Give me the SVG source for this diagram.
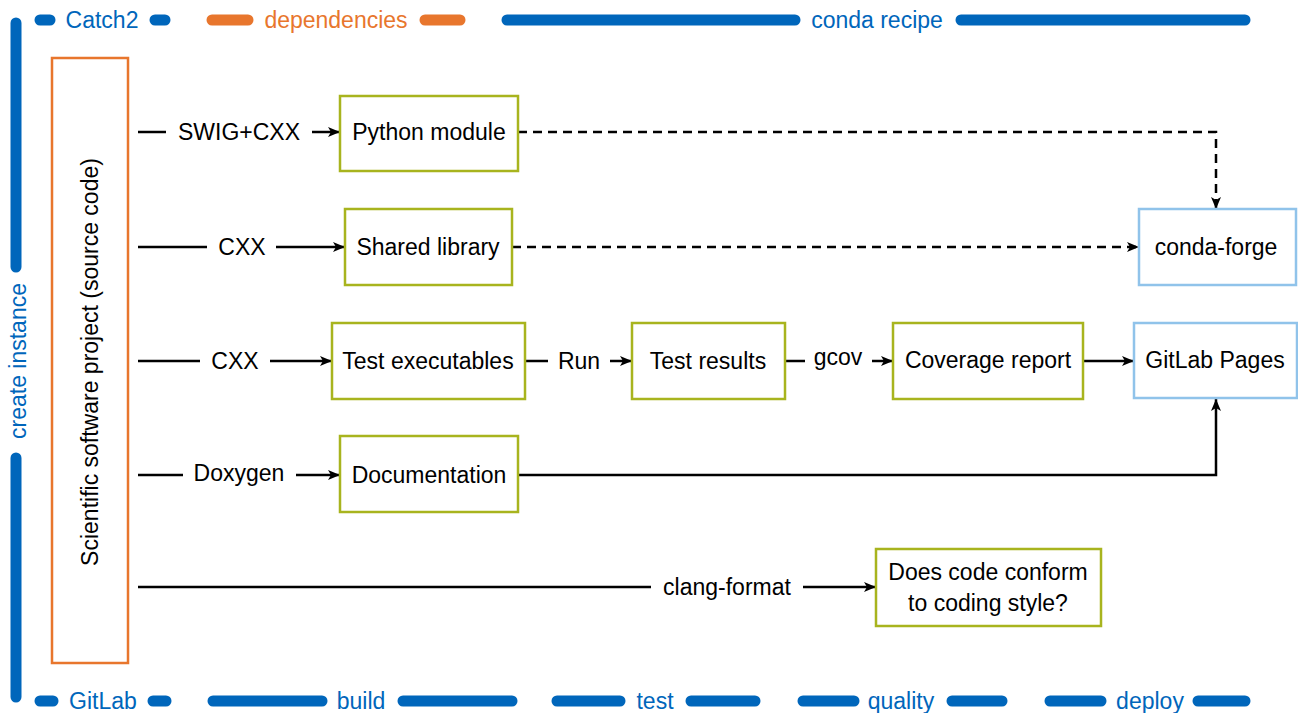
<svg xmlns="http://www.w3.org/2000/svg" width="1298" height="713" viewBox="0 0 1298 713">
<defs>
<style>
text{font-family:"Liberation Sans",Arial,sans-serif;font-size:23px;text-anchor:middle}
.lbl{fill:#000}
.stage{fill:#0066BB}
.dep{fill:#E8762D}
.bar{stroke:#0066BB;stroke-width:11;stroke-linecap:round;fill:none}
.obar{stroke:#E8762D;stroke-width:11;stroke-linecap:round;fill:none}
.green{fill:#fff;stroke:#A8B41E;stroke-width:2.5}
.blue{fill:#fff;stroke:#90C3EA;stroke-width:2.5}
.orange{fill:#fff;stroke:#E8762D;stroke-width:2.5}
.c{stroke:#000;stroke-width:2.5;fill:none}
.a{marker-end:url(#arr)}
.d{stroke-dasharray:9 6}
</style>
<marker id="arr" markerUnits="userSpaceOnUse" markerWidth="14" markerHeight="12" refX="12" refY="5" orient="auto">
<path d="M0,0 L12,5 L0,10 L3,5 z" fill="#000"/>
</marker>
</defs>
<rect width="1298" height="713" fill="#fff"/>

<g id="frame">
<line class="bar" x1="16" y1="23" x2="16" y2="267"/>
<line class="bar" x1="16" y1="458" x2="16" y2="697"/>
<text class="stage" transform="translate(26,361) rotate(-90)">create instance</text>
<line class="bar" x1="40" y1="20" x2="50" y2="20"/>
<text class="stage" x="102" y="28">Catch2</text>
<line class="bar" x1="155" y1="20" x2="165" y2="20"/>
<line class="obar" x1="212" y1="20" x2="248" y2="20"/>
<text class="dep" x="336" y="28">dependencies</text>
<line class="obar" x1="425" y1="20" x2="460" y2="20"/>
<line class="bar" x1="507" y1="20" x2="795" y2="20"/>
<text class="stage" x="877" y="28">conda recipe</text>
<line class="bar" x1="961" y1="20" x2="1245" y2="20"/>
<line class="bar" x1="40" y1="701" x2="53" y2="701"/>
<text class="stage" x="103" y="709">GitLab</text>
<line class="bar" x1="153" y1="701" x2="166" y2="701"/>
<line class="bar" x1="213" y1="701" x2="322" y2="701"/>
<text class="stage" x="361" y="709">build</text>
<line class="bar" x1="403" y1="701" x2="512" y2="701"/>
<line class="bar" x1="557" y1="701" x2="620" y2="701"/>
<text class="stage" x="655" y="709">test</text>
<line class="bar" x1="691" y1="701" x2="755" y2="701"/>
<line class="bar" x1="803" y1="701" x2="854" y2="701"/>
<text class="stage" x="901" y="709">quality</text>
<line class="bar" x1="952" y1="701" x2="1002" y2="701"/>
<line class="bar" x1="1050" y1="701" x2="1101" y2="701"/>
<text class="stage" x="1150" y="709">deploy</text>
<line class="bar" x1="1198" y1="701" x2="1245" y2="701"/>
</g>

<g id="connectors">
<line class="c" x1="138" y1="132" x2="166" y2="132"/>
<text class="lbl" x="239" y="140">SWIG+CXX</text>
<line class="c a" x1="312" y1="132" x2="340" y2="132"/>
<line class="c" x1="138" y1="247" x2="207" y2="247"/>
<text class="lbl" x="242" y="255">CXX</text>
<line class="c a" x1="276" y1="247" x2="345" y2="247"/>
<line class="c" x1="138" y1="361" x2="200" y2="361"/>
<text class="lbl" x="235" y="369">CXX</text>
<line class="c a" x1="270" y1="361" x2="332" y2="361"/>
<line class="c" x1="525" y1="361" x2="548" y2="361"/>
<text class="lbl" x="579" y="369">Run</text>
<line class="c a" x1="610" y1="361" x2="632" y2="361"/>
<line class="c" x1="785" y1="361" x2="805" y2="361"/>
<text class="lbl" x="838" y="365">gcov</text>
<line class="c a" x1="872" y1="361" x2="893" y2="361"/>
<line class="c a" x1="1083" y1="361" x2="1134" y2="361"/>
<line class="c" x1="138" y1="475" x2="183" y2="475"/>
<text class="lbl" x="239" y="481">Doxygen</text>
<line class="c a" x1="296" y1="475" x2="340" y2="475"/>
<path class="c a" d="M518,475 H1216 V399"/>
<line class="c" x1="138" y1="587" x2="651" y2="587"/>
<text class="lbl" x="727" y="595">clang-format</text>
<line class="c a" x1="803" y1="587" x2="876" y2="587"/>
<path class="c a d" d="M518,132 H1216 V209"/>
<path class="c a d" d="M512,247 H1139"/>
</g>

<g id="source">
<rect class="orange" x="52" y="58" width="76" height="605"/>
<text class="lbl" transform="translate(98,362) rotate(-90)">Scientific software project (source code)</text>
</g>
<g id="python-module">
<rect class="green" x="340" y="96" width="178" height="75"/>
<text class="lbl" x="429" y="140">Python module</text>
</g>
<g id="shared-library">
<rect class="green" x="345" y="209" width="167" height="76"/>
<text class="lbl" x="428" y="255">Shared library</text>
</g>
<g id="test-executables">
<rect class="green" x="332" y="323" width="193" height="76"/>
<text class="lbl" x="428" y="369">Test executables</text>
</g>
<g id="test-results">
<rect class="green" x="632" y="323" width="153" height="76"/>
<text class="lbl" x="708" y="369">Test results</text>
</g>
<g id="coverage-report">
<rect class="green" x="893" y="323" width="190" height="76"/>
<text class="lbl" x="988" y="368">Coverage report</text>
</g>
<g id="documentation">
<rect class="green" x="340" y="436" width="178" height="76"/>
<text class="lbl" x="429" y="483">Documentation</text>
</g>
<g id="code-style">
<rect class="green" x="876" y="549" width="225" height="77"/>
<text class="lbl" x="988" y="580">Does code conform</text>
<text class="lbl" x="988" y="611">to coding style?</text>
</g>
<g id="conda-forge">
<rect class="blue" x="1139" y="209" width="157" height="76"/>
<text class="lbl" x="1216" y="255">conda-forge</text>
</g>
<g id="gitlab-pages">
<rect class="blue" x="1134" y="323" width="163" height="75"/>
<text class="lbl" x="1215" y="368">GitLab Pages</text>
</g>
</svg>
